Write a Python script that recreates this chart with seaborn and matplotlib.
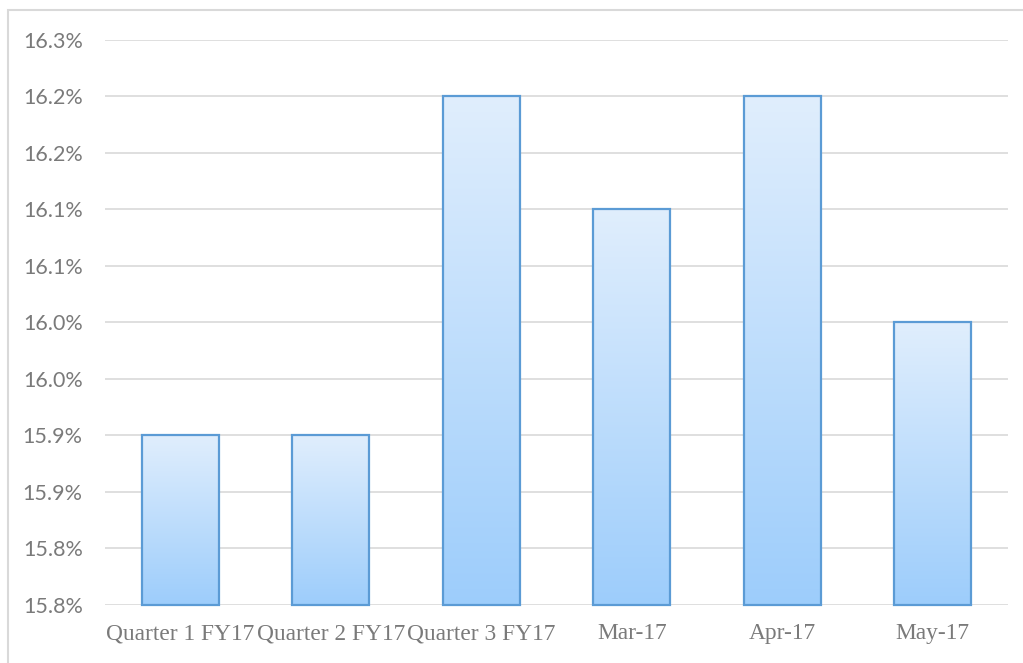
import numpy as np
import pandas as pd
import matplotlib
matplotlib.use("Agg")
import matplotlib.pyplot as plt
import seaborn as sns
from matplotlib.patches import Rectangle

# ---- podaci ----
kategorije = ["Quarter 1 FY17", "Quarter 2 FY17", "Quarter 3 FY17", "Mar-17", "Apr-17", "May-17"]
vrednosti = [15.90, 15.90, 16.20, 16.10, 16.20, 16.00]
y_ticks = [15.75, 15.80, 15.85, 15.90, 15.95, 16.00, 16.05, 16.10, 16.15, 16.20, 16.25]
y_labels = ["15.8%", "15.8%", "15.9%", "15.9%", "16.0%", "16.0%",
            "16.1%", "16.1%", "16.2%", "16.2%", "16.3%"]

df = pd.DataFrame({"Period": kategorije, "Vrednost": vrednosti})

sns.set_theme(style="white")
siva = "#7a7a7a"

fig = plt.figure(figsize=(10.23, 6.63), dpi=100)
ax = fig.add_axes([0.1026, 0.0875, 0.8827, 0.8522])

sns.barplot(data=df, x="Period", y="Vrednost", color="#9dcdfb", width=0.51,
            edgecolor="#5b9bd5", linewidth=1.6, ax=ax, zorder=3)

ymin, ymax = y_ticks[0], y_ticks[-1]
ax.set_ylim(ymin, ymax)
ax.set_xlim(-0.5, len(kategorije) - 0.5)

# gradijent u svakom stubicu (svetlo gore, tamnije dole)
grad = np.linspace(0, 1, 256).reshape(-1, 1)
cmap = matplotlib.colors.LinearSegmentedColormap.from_list("g", ["#9dcdfb", "#e0eefd"])
for p in ax.patches:
    p.set_y(ymin)
    p.set_height(p.get_height() - ymin)
    x0 = p.get_x()
    w = p.get_width()
    top = p.get_y() + p.get_height()
    p.set_facecolor("none")
    im = ax.imshow(grad, cmap=cmap, aspect="auto", origin="lower",
                   extent=[x0, x0 + w, ymin, top], zorder=2)
    im.set_clip_path(p)
    p.set_clip_on(False)

ax.set_yticks(y_ticks)
ax.set_yticklabels(y_labels, fontfamily="Lato", fontsize=15.5, color=siva)
ax.set_xticks(range(len(kategorije)))
ax.set_xticklabels(kategorije, fontfamily="Liberation Serif", fontsize=16.8, color=siva)
ax.tick_params(axis="y", length=0, pad=16)
ax.tick_params(axis="x", length=0, pad=13)
ax.set_xlabel("")
ax.set_ylabel("")
ax.grid(axis="y", color="#d9d9d9", linewidth=1.2, zorder=0)
ax.set_axisbelow(True)
for s in ax.spines.values():
    s.set_visible(False)

# okvir grafikona
fig.add_artist(Rectangle((8 / 1023, -0.05), 1.2, 1 - 10 / 663 + 0.05,
                         transform=fig.transFigure, fill=False,
                         edgecolor="#d9d9d9", linewidth=1.5))

fig.savefig("out.png", dpi=100)
